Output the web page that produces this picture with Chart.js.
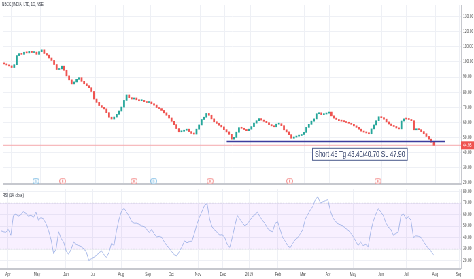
<!DOCTYPE html>
<html>
<head>
<meta charset="utf-8">
<script src="https://cdn.jsdelivr.net/npm/chart.js@4.4.1/dist/chart.umd.min.js"></script>
<style>
html, body { margin: 0; padding: 0; background: #fff; overflow: hidden; width: 474px; height: 279px; }
#wrap { position: absolute; left: 0; top: 0; width: 697px; height: 279px; transform: scaleX(0.68); transform-origin: 0 0; }
canvas { display: block; }
</style>
</head>
<body>
<div id="wrap">
  <canvas id="price" width="697" height="189"></canvas>
  <canvas id="rsi" width="697" height="90"></canvas>
</div>
<script>
var chartTitle = 'NBCC (INDIA) LTD, 1D, NSE';
var rsiTitle = 'RSI (14, close)';
var noteText = 'Short 45 Tg 43.40/40.70 SL 47.90';

// closes sampled every 2nd session, Apr 2018 .. end of Jul 2019
var firstOpen = 99.2;
var closes = [
    98.7, 98.0, 97.4, 96.3, 98.2, 104.2, 105.5, 105.0, 106.4, 106.0,
    107.0, 106.2, 106.5, 105.0, 106.8, 108.0, 105.6, 104.5, 102.6, 101.0,
    98.3, 95.0, 95.4, 97.2, 94.5, 90.8, 88.2, 85.5, 86.8, 88.5,
    89.6, 87.2, 85.6, 84.3, 83.0, 80.5, 75.5, 73.3, 71.2, 70.0,
    69.0, 66.5, 63.5, 62.3, 63.6, 65.4, 67.6, 70.2, 74.6, 78.2,
    76.4, 75.5, 76.2, 75.0, 74.4, 74.6, 73.8, 73.2, 73.6, 72.4,
    71.5, 69.9, 69.2, 68.0, 66.4, 64.8, 63.0, 60.8, 58.6, 56.0,
    53.9, 54.2, 54.9, 55.6, 54.0, 52.8, 52.4, 55.6, 58.4, 62.0,
    63.5, 66.0, 64.8, 62.4, 60.5, 59.4, 58.2, 57.1, 55.3, 53.8,
    52.2, 49.0, 50.2, 53.6, 56.6, 56.2, 55.4, 54.6, 55.6, 57.3,
    59.6, 61.2, 62.6, 61.6, 60.8, 59.9, 58.6, 57.8, 57.2, 58.9,
    59.2, 57.9, 55.2, 53.8, 52.0, 49.6, 50.4, 51.0, 51.4, 52.1,
    53.5, 56.8, 58.8, 60.9, 62.4, 65.8, 66.4, 65.2, 65.6, 66.2,
    66.9, 64.4, 62.9, 62.0, 61.2, 60.9, 60.6, 60.0, 59.5, 58.8,
    57.8, 56.8, 55.6, 54.3, 53.7, 53.1, 52.6, 55.8, 58.4, 61.2,
    63.8, 63.2, 62.2, 60.4, 59.0, 58.0, 57.4, 56.4, 55.8, 61.0,
    62.4, 62.3, 62.0, 61.2, 55.2, 55.6, 55.3, 54.0, 52.6, 50.8,
    49.0, 47.0, 44.95
];

var rsiValues = [
    46, 45, 44.5, 47, 42, 59, 60.5, 58.5, 60, 62.5,
    61, 58.5, 59.5, 57.5, 62, 55, 57.5, 56, 52, 46,
    38, 26, 30, 45, 39, 36, 28, 25.5, 30, 36,
    34, 33, 32, 30, 27.5, 20, 21.5, 22.7, 24.5, 26.5,
    28.5, 25, 22.7, 27, 35, 33, 46, 56, 63, 65.5,
    62, 58.5, 54, 52.5, 52.5, 51.5, 50, 49.5, 47, 44.5,
    47, 43, 40.5, 41, 40, 36, 33, 30.5, 27.5, 25,
    24, 28, 32, 37, 35.5, 36.5, 36.8, 44, 52, 58,
    63, 68, 69.5, 56, 49, 46.5, 44.5, 42, 42.5, 40,
    34, 31.5, 40, 50, 59, 56, 53, 50, 52, 55,
    58, 60, 62, 58, 55, 52, 48, 46, 45, 52,
    54, 47, 40, 37, 33, 31, 35, 38, 40, 43,
    47, 56, 60, 64, 67, 73, 75.5, 70, 71, 72,
    73, 63, 57, 54, 52, 51, 50, 48, 46.5, 44,
    41, 37, 33, 36, 33, 34, 32, 45, 54, 60,
    65, 62.5, 59, 53, 49, 47, 42, 43.5, 45, 59,
    60.5, 56.5, 58, 55, 40, 41.5, 41, 40, 36.5, 33,
    30.5, 28, 25
];

var monthLabels = ['Apr', 'May', 'Jun', 'Jul', 'Aug', 'Sep', 'Oct', 'Nov', 'Dec', '2019',
    'Feb', 'Mar', 'Apr', 'May', 'Jun', 'Jul', 'Aug', 'Sep'];
var monthPos = [2.9, 14.4, 25.9, 36.7, 47.8, 58.5, 67.7, 78.4, 88.3, 98.7,
    110.2, 120.1, 130.1, 140.0, 151.1, 161.1, 172.6, 182.1];
var priceTicks = [20, 30, 40, 50, 60, 70, 80, 90, 100, 110, 120, 130];
var rsiTicks = [20, 30, 40, 50, 60, 70, 80];
var rsiBand = [30, 70];

var eventAt = [12.7, 23.4, 52.0, 59.9, 82.5, 114.3, 149.6];
var eventKind = ['D', 'E', 'E', 'D', 'E', 'E', 'E'];

var supportLevel = 47.5;
var supportFrom = 89.1;
var supportTo = 176.5;
var lastPrice = closes[closes.length - 1];
var noteAt = [123.3, 43.3];

var xMin = -0.3;
var xMax = 182.9;
var UP = '#26a69a';
var DOWN = '#ef5350';
var GRID = '#eef0f5';
var AXIS = '#c6c8ce';
var FONT = 'Liberation Sans';

Chart.defaults.font.family = FONT;
Chart.defaults.color = '#4a4a4a';

function eventIcon(kind) {
    var c = document.createElement('canvas');
    c.width = 10;
    c.height = 7;
    var g = c.getContext('2d');
    var col = kind === 'E' ? DOWN : '#3d9bd6';
    g.beginPath();
    g.ellipse(5, 3.5, 4.4, 3, 0, 0, Math.PI * 2);
    g.fillStyle = '#fff';
    g.fill();
    g.lineWidth = 0.8;
    g.strokeStyle = col;
    g.stroke();
    g.fillStyle = col;
    g.font = '4px "' + FONT + '"';
    g.textAlign = 'center';
    g.textBaseline = 'middle';
    g.fillText(kind, 5, 3.7);
    return c;
}

function monthTicks(scale) {
    scale.ticks = monthPos.map(function (v) { return {value: v}; });
}

function fixedWidth(scale) {
    scale.width = 19;
    scale.paddingTop = 0;
    scale.paddingBottom = 0;
}

var candleData = closes.map(function (c, i) {
    return {x: i, y: [i ? closes[i - 1] : firstOpen, c]};
});
var candleColors = candleData.map(function (d) {
    return d.y[1] >= d.y[0] ? UP : DOWN;
});

var pricePanelText = {
    id: 'pricePanelText',
    afterDraw: function (chart) {
        var ctx = chart.ctx;
        var area = chart.chartArea;
        var xs = chart.scales.x;
        var ys = chart.scales.y;
        ctx.save();
        ctx.textBaseline = 'middle';
        ctx.font = '4.7px "' + FONT + '"';
        ctx.fillStyle = '#2a2e39';
        ctx.fillText(chartTitle, 3, 5);

        // last price tag on the axis
        var py = ys.getPixelForValue(lastPrice);
        ctx.fillStyle = DOWN;
        ctx.fillRect(area.right, py - 4, chart.width - area.right, 8);
        ctx.fillStyle = '#fff';
        ctx.font = '5px "' + FONT + '"';
        ctx.fillText(lastPrice.toFixed(2), area.right + 3, py + 0.3);

        // trade note
        ctx.font = '8.8px "' + FONT + '"';
        var tw = ctx.measureText(noteText).width;
        var left = xs.getPixelForValue(noteAt[0]);
        var top = ys.getPixelForValue(noteAt[1]);
        ctx.fillStyle = '#fff';
        ctx.fillRect(left, top, tw + 8, 13);
        ctx.strokeStyle = '#4b5b8c';
        ctx.lineWidth = 1;
        ctx.strokeRect(left + 0.5, top + 0.5, tw + 7, 12);
        ctx.fillStyle = '#1f2e5a';
        ctx.fillText(noteText, left + 4, top + 7);
        ctx.restore();
    }
};

new Chart(document.getElementById('price'), {
    type: 'bar',
    data: {
        datasets: [{
            type: 'line',
            data: [{x: xMin, y: lastPrice}, {x: xMax, y: lastPrice}],
            borderColor: '#f5a9ad',
            borderWidth: 1,
            pointRadius: 0,
            order: 3
        }, {
            type: 'bar',
            data: candleData,
            backgroundColor: candleColors,
            barThickness: 2.1,
            minBarLength: 1,
            order: 1
        }, {
            type: 'line',
            data: [{x: supportFrom, y: supportLevel}, {x: supportTo, y: supportLevel}],
            borderColor: '#3d3d9e',
            borderWidth: 1.5,
            pointRadius: 0,
            order: 0
        }, {
            type: 'line',
            data: eventAt.map(function (v) { return {x: v, y: 21.3}; }),
            showLine: false,
            pointStyle: eventKind.map(eventIcon),
            pointRadius: 3,
            order: 0
        }]
    },
    options: {
        responsive: false,
        animation: false,
        devicePixelRatio: 1,
        plugins: {legend: {display: false}, tooltip: {enabled: false}},
        scales: {
            x: {
                type: 'linear',
                offset: false,
                min: xMin,
                max: xMax,
                afterBuildTicks: monthTicks,
                ticks: {display: false},
                grid: {color: GRID, drawTicks: false, offset: false},
                border: {color: AXIS, width: 2},
                afterFit: function (scale) {
                    scale.height = 1;
                    scale.paddingLeft = 0;
                    scale.paddingRight = 0;
                }
            },
            y: {
                position: 'right',
                min: 19.4,
                max: 137.6,
                afterBuildTicks: function (scale) {
                    scale.ticks = priceTicks.map(function (v) { return {value: v}; });
                },
                ticks: {
                    font: {size: 5},
                    padding: 3,
                    callback: function (v) { return v.toFixed(2); }
                },
                grid: {color: GRID, drawTicks: false},
                border: {color: AXIS, width: 1},
                afterFit: fixedWidth
            }
        }
    },
    plugins: [pricePanelText]
});

var rsiPanelText = {
    id: 'rsiPanelText',
    beforeDraw: function (chart) {
        // keep the time labels out of the price-axis column
        var a = chart.chartArea;
        var ctx = chart.ctx;
        ctx.save();
        ctx.beginPath();
        ctx.rect(0, 0, chart.width, chart.height);
        ctx.rect(a.right, a.bottom, chart.width - a.right, chart.height - a.bottom);
        ctx.clip('evenodd');
    },
    beforeDatasetsDraw: function (chart) {
        chart.ctx.restore();
    },
    afterDraw: function (chart) {
        var ctx = chart.ctx;
        ctx.save();
        ctx.textBaseline = 'middle';
        ctx.font = '4.7px "' + FONT + '"';
        ctx.fillStyle = '#2a2e39';
        ctx.fillText(rsiTitle, 4, 6.5);
        ctx.restore();
    }
};

new Chart(document.getElementById('rsi'), {
    type: 'line',
    data: {
        datasets: [{
            data: [{x: xMin, y: rsiBand[1]}, {x: xMax, y: rsiBand[1]}],
            fill: '+1',
            backgroundColor: 'rgba(160, 70, 255, 0.08)',
            borderColor: 'rgba(120, 123, 134, 0.15)',
            borderDash: [2, 2],
            borderWidth: 0.8,
            pointRadius: 0,
            order: 2
        }, {
            data: [{x: xMin, y: rsiBand[0]}, {x: xMax, y: rsiBand[0]}],
            fill: false,
            borderColor: 'rgba(120, 123, 134, 0.15)',
            borderDash: [2, 2],
            borderWidth: 0.8,
            pointRadius: 0,
            order: 2
        }, {
            data: rsiValues.map(function (v, i) { return {x: i, y: v}; }),
            borderColor: '#9fb2e6',
            borderWidth: 0.9,
            pointRadius: 0,
            tension: 0,
            order: 0
        }]
    },
    options: {
        responsive: false,
        animation: false,
        devicePixelRatio: 1,
        plugins: {legend: {display: false}, tooltip: {enabled: false}},
        scales: {
            x: {
                type: 'linear',
                min: xMin,
                max: xMax,
                afterBuildTicks: monthTicks,
                ticks: {
                    font: {size: 5},
                    padding: 3,
                    maxRotation: 0,
                    autoSkip: false,
                    callback: function (v, i) { return monthLabels[i]; }
                },
                grid: {color: GRID, drawTicks: false},
                border: {color: AXIS, width: 2},
                afterFit: function (scale) {
                    scale.height = 10;
                    scale.paddingLeft = 0;
                    scale.paddingRight = 0;
                }
            },
            y: {
                position: 'right',
                min: 12.6,
                max: 82.2,
                afterBuildTicks: function (scale) {
                    scale.ticks = rsiTicks.map(function (v) { return {value: v}; });
                },
                ticks: {
                    font: {size: 5},
                    padding: 3,
                    callback: function (v) { return v.toFixed(2); }
                },
                grid: {color: GRID, drawTicks: false},
                border: {color: AXIS, width: 1},
                afterFit: fixedWidth
            }
        }
    },
    plugins: [rsiPanelText]
});
</script>
</body>
</html>
